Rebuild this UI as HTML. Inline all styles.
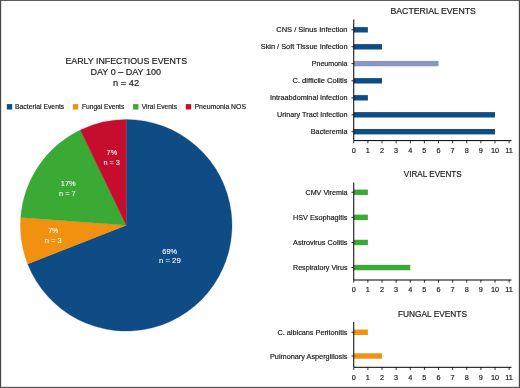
<!DOCTYPE html><html><head><meta charset="utf-8"><style>html,body{margin:0;padding:0;background:#fff}svg{display:block;will-change:transform;opacity:.9999}text{font-family:"Liberation Sans",sans-serif;fill:#1a1a1a;stroke:#1a1a1a;stroke-width:0.18px}</style></head><body>
<svg width="520" height="388" viewBox="0 0 520 388">
<rect x="0" y="0" width="520" height="388" fill="#fff"/>
<rect x="0" y="0" width="520" height="1" fill="#5a5a5a"/><rect x="0" y="387" width="520" height="1" fill="#555"/><rect x="0" y="386" width="520" height="1" fill="#e2e2e2"/>
<rect x="0" y="0" width="1" height="388" fill="#484848"/><rect x="1" y="1" width="1" height="386" fill="#e0e0e0"/><rect x="519" y="0" width="1" height="388" fill="#484848"/><rect x="518" y="1" width="1" height="386" fill="#dcdcdc"/>
<text x="65.5" y="64.1" font-size="8.9" textLength="121.50" lengthAdjust="spacingAndGlyphs">EARLY INFECTIOUS EVENTS</text>
<text x="90.5" y="75.4" font-size="8.9" textLength="70.50" lengthAdjust="spacingAndGlyphs">DAY 0 – DAY 100</text>
<text x="113" y="85.7" font-size="8.9" textLength="26.10" lengthAdjust="spacingAndGlyphs">n = 42</text>
<rect x="6.8" y="104.1" width="5.4" height="5.4" fill="#0f4b85"/>
<text x="15" y="109.1" font-size="6.9" textLength="49.25" lengthAdjust="spacingAndGlyphs">Bacterial Events</text>
<rect x="72.8" y="104.1" width="5.4" height="5.4" fill="#f29010"/>
<text x="82" y="109.1" font-size="6.9" textLength="42.25" lengthAdjust="spacingAndGlyphs">Fungal Events</text>
<rect x="133.05" y="104.1" width="5.4" height="5.4" fill="#3aaa35"/>
<text x="141.75" y="109.1" font-size="6.9" textLength="35.25" lengthAdjust="spacingAndGlyphs">Viral Events</text>
<rect x="185.8" y="104.1" width="5.4" height="5.4" fill="#c70d2d"/>
<text x="194.5" y="109.1" font-size="6.9" textLength="51.50" lengthAdjust="spacingAndGlyphs">Pneumonia NOS</text>
<path d="M126.2,225.3 L126.20,119.50 A105.8,105.8 0 1 1 27.71,263.95 Z" fill="#0f4b85" stroke="#0f4b85" stroke-width="0.3"/>
<path d="M126.2,225.3 L27.71,263.95 A105.8,105.8 0 0 1 20.70,217.39 Z" fill="#f29010" stroke="#f29010" stroke-width="0.3"/>
<path d="M126.2,225.3 L20.70,217.39 A105.8,105.8 0 0 1 80.30,129.98 Z" fill="#3aaa35" stroke="#3aaa35" stroke-width="0.3"/>
<path d="M126.2,225.3 L80.30,129.98 A105.8,105.8 0 0 1 126.20,119.50 Z" fill="#c70d2d" stroke="#c70d2d" stroke-width="0.3"/>
<text x="162.3" y="253.8" font-size="7.3" textLength="14.90" lengthAdjust="spacingAndGlyphs" style="fill:#fff;stroke:#fff;stroke-width:0.08px">69%</text>
<text x="158.9" y="263.2" font-size="7.3" textLength="21.90" lengthAdjust="spacingAndGlyphs" style="fill:#fff;stroke:#fff;stroke-width:0.08px">n = 29</text>
<text x="48.2" y="233.4" font-size="7.3" textLength="10.20" lengthAdjust="spacingAndGlyphs" style="fill:#fff;stroke:#fff;stroke-width:0.08px">7%</text>
<text x="44.8" y="243.1" font-size="7.3" textLength="17.00" lengthAdjust="spacingAndGlyphs" style="fill:#fff;stroke:#fff;stroke-width:0.08px">n = 3</text>
<text x="60.8" y="186.0" font-size="7.3" textLength="14.90" lengthAdjust="spacingAndGlyphs" style="fill:#fff;stroke:#fff;stroke-width:0.08px">17%</text>
<text x="58.9" y="195.5" font-size="7.3" textLength="16.90" lengthAdjust="spacingAndGlyphs" style="fill:#fff;stroke:#fff;stroke-width:0.08px">n = 7</text>
<text x="106.6" y="155.4" font-size="7.3" textLength="10.60" lengthAdjust="spacingAndGlyphs" style="fill:#fff;stroke:#fff;stroke-width:0.08px">7%</text>
<text x="103.5" y="164.7" font-size="7.3" textLength="16.40" lengthAdjust="spacingAndGlyphs" style="fill:#fff;stroke:#fff;stroke-width:0.08px">n = 3</text>
<text x="390.5" y="14.4" font-size="8.6" textLength="85.30" lengthAdjust="spacingAndGlyphs">BACTERIAL EVENTS</text>
<rect x="353.75" y="27.10" width="14.12" height="5.4" fill="#0f4b85"/>
<line x1="351.45" y1="29.8" x2="353.75" y2="29.8" stroke="#000" stroke-width="0.85"/>
<text x="276.25" y="32.3" font-size="7.3" textLength="71.25" lengthAdjust="spacingAndGlyphs">CNS / Sinus Infection</text>
<rect x="353.75" y="44.10" width="28.25" height="5.4" fill="#0f4b85"/>
<line x1="351.45" y1="46.8" x2="353.75" y2="46.8" stroke="#000" stroke-width="0.85"/>
<text x="260.75" y="49.3" font-size="7.3" textLength="86.75" lengthAdjust="spacingAndGlyphs">Skin / Soft Tissue Infection</text>
<rect x="353.75" y="60.90" width="84.75" height="5.4" fill="#8b95bd"/>
<line x1="351.45" y1="63.6" x2="353.75" y2="63.6" stroke="#000" stroke-width="0.85"/>
<text x="311.75" y="66.1" font-size="7.3" textLength="35.75" lengthAdjust="spacingAndGlyphs">Pneumonia</text>
<rect x="353.75" y="78.10" width="28.25" height="5.4" fill="#0f4b85"/>
<line x1="351.45" y1="80.8" x2="353.75" y2="80.8" stroke="#000" stroke-width="0.85"/>
<text x="292.5" y="83.3" font-size="7.3" textLength="55.00" lengthAdjust="spacingAndGlyphs">C. difficile Colitis</text>
<rect x="353.75" y="95.10" width="14.12" height="5.4" fill="#0f4b85"/>
<line x1="351.45" y1="97.8" x2="353.75" y2="97.8" stroke="#000" stroke-width="0.85"/>
<text x="270" y="100.3" font-size="7.3" textLength="77.50" lengthAdjust="spacingAndGlyphs">Intraabdominal Infection</text>
<rect x="353.75" y="112.10" width="141.25" height="5.4" fill="#0f4b85"/>
<line x1="351.45" y1="114.8" x2="353.75" y2="114.8" stroke="#000" stroke-width="0.85"/>
<text x="277" y="117.3" font-size="7.3" textLength="70.50" lengthAdjust="spacingAndGlyphs">Urinary Tract Infection</text>
<rect x="353.75" y="129.00" width="141.25" height="5.4" fill="#0f4b85"/>
<line x1="351.45" y1="131.7" x2="353.75" y2="131.7" stroke="#000" stroke-width="0.85"/>
<text x="310.75" y="134.2" font-size="7.3" textLength="36.75" lengthAdjust="spacingAndGlyphs">Bacteremia</text>
<path d="M353.75,19.5 V140.6 H511.525" fill="none" stroke="#000" stroke-width="1"/>
<line x1="353.75" y1="140.6" x2="353.75" y2="143.29999999999998" stroke="#000" stroke-width="0.8"/>
<text x="353.75" y="153.04999999999998" font-size="7.3" text-anchor="middle">0</text>
<line x1="367.88" y1="140.6" x2="367.88" y2="143.29999999999998" stroke="#000" stroke-width="0.8"/>
<text x="367.88" y="153.04999999999998" font-size="7.3" text-anchor="middle">1</text>
<line x1="382.00" y1="140.6" x2="382.00" y2="143.29999999999998" stroke="#000" stroke-width="0.8"/>
<text x="382.00" y="153.04999999999998" font-size="7.3" text-anchor="middle">2</text>
<line x1="396.12" y1="140.6" x2="396.12" y2="143.29999999999998" stroke="#000" stroke-width="0.8"/>
<text x="396.12" y="153.04999999999998" font-size="7.3" text-anchor="middle">3</text>
<line x1="410.25" y1="140.6" x2="410.25" y2="143.29999999999998" stroke="#000" stroke-width="0.8"/>
<text x="410.25" y="153.04999999999998" font-size="7.3" text-anchor="middle">4</text>
<line x1="424.38" y1="140.6" x2="424.38" y2="143.29999999999998" stroke="#000" stroke-width="0.8"/>
<text x="424.38" y="153.04999999999998" font-size="7.3" text-anchor="middle">5</text>
<line x1="438.50" y1="140.6" x2="438.50" y2="143.29999999999998" stroke="#000" stroke-width="0.8"/>
<text x="438.50" y="153.04999999999998" font-size="7.3" text-anchor="middle">6</text>
<line x1="452.62" y1="140.6" x2="452.62" y2="143.29999999999998" stroke="#000" stroke-width="0.8"/>
<text x="452.62" y="153.04999999999998" font-size="7.3" text-anchor="middle">7</text>
<line x1="466.75" y1="140.6" x2="466.75" y2="143.29999999999998" stroke="#000" stroke-width="0.8"/>
<text x="466.75" y="153.04999999999998" font-size="7.3" text-anchor="middle">8</text>
<line x1="480.88" y1="140.6" x2="480.88" y2="143.29999999999998" stroke="#000" stroke-width="0.8"/>
<text x="480.88" y="153.04999999999998" font-size="7.3" text-anchor="middle">9</text>
<line x1="495.00" y1="140.6" x2="495.00" y2="143.29999999999998" stroke="#000" stroke-width="0.8"/>
<text x="495.00" y="153.04999999999998" font-size="7.3" text-anchor="middle">10</text>
<line x1="509.12" y1="140.6" x2="509.12" y2="143.29999999999998" stroke="#000" stroke-width="0.8"/>
<text x="509.12" y="153.04999999999998" font-size="7.3" text-anchor="middle">11</text>
<text x="403.75" y="176.9" font-size="8.6" textLength="58.00" lengthAdjust="spacingAndGlyphs">VIRAL EVENTS</text>
<rect x="353.75" y="189.55" width="14.12" height="5.4" fill="#3aaa35"/>
<line x1="351.45" y1="192.25" x2="353.75" y2="192.25" stroke="#000" stroke-width="0.85"/>
<text x="305.5" y="194.75" font-size="7.3" textLength="42.00" lengthAdjust="spacingAndGlyphs">CMV Viremia</text>
<rect x="353.75" y="214.65" width="14.12" height="5.4" fill="#3aaa35"/>
<line x1="351.45" y1="217.35" x2="353.75" y2="217.35" stroke="#000" stroke-width="0.85"/>
<text x="293" y="219.85" font-size="7.3" textLength="54.50" lengthAdjust="spacingAndGlyphs">HSV Esophagitis</text>
<rect x="353.75" y="239.75" width="14.12" height="5.4" fill="#3aaa35"/>
<line x1="351.45" y1="242.45" x2="353.75" y2="242.45" stroke="#000" stroke-width="0.85"/>
<text x="293" y="244.95" font-size="7.3" textLength="54.50" lengthAdjust="spacingAndGlyphs">Astrovirus Colitis</text>
<rect x="353.75" y="264.85" width="56.50" height="5.4" fill="#3aaa35"/>
<line x1="351.45" y1="267.55" x2="353.75" y2="267.55" stroke="#000" stroke-width="0.85"/>
<text x="293" y="270.05" font-size="7.3" textLength="54.50" lengthAdjust="spacingAndGlyphs">Respiratory Virus</text>
<path d="M353.75,182.5 V280 H511.525" fill="none" stroke="#000" stroke-width="1"/>
<line x1="353.75" y1="280" x2="353.75" y2="282.7" stroke="#000" stroke-width="0.8"/>
<text x="353.75" y="292.45" font-size="7.3" text-anchor="middle">0</text>
<line x1="367.88" y1="280" x2="367.88" y2="282.7" stroke="#000" stroke-width="0.8"/>
<text x="367.88" y="292.45" font-size="7.3" text-anchor="middle">1</text>
<line x1="382.00" y1="280" x2="382.00" y2="282.7" stroke="#000" stroke-width="0.8"/>
<text x="382.00" y="292.45" font-size="7.3" text-anchor="middle">2</text>
<line x1="396.12" y1="280" x2="396.12" y2="282.7" stroke="#000" stroke-width="0.8"/>
<text x="396.12" y="292.45" font-size="7.3" text-anchor="middle">3</text>
<line x1="410.25" y1="280" x2="410.25" y2="282.7" stroke="#000" stroke-width="0.8"/>
<text x="410.25" y="292.45" font-size="7.3" text-anchor="middle">4</text>
<line x1="424.38" y1="280" x2="424.38" y2="282.7" stroke="#000" stroke-width="0.8"/>
<text x="424.38" y="292.45" font-size="7.3" text-anchor="middle">5</text>
<line x1="438.50" y1="280" x2="438.50" y2="282.7" stroke="#000" stroke-width="0.8"/>
<text x="438.50" y="292.45" font-size="7.3" text-anchor="middle">6</text>
<line x1="452.62" y1="280" x2="452.62" y2="282.7" stroke="#000" stroke-width="0.8"/>
<text x="452.62" y="292.45" font-size="7.3" text-anchor="middle">7</text>
<line x1="466.75" y1="280" x2="466.75" y2="282.7" stroke="#000" stroke-width="0.8"/>
<text x="466.75" y="292.45" font-size="7.3" text-anchor="middle">8</text>
<line x1="480.88" y1="280" x2="480.88" y2="282.7" stroke="#000" stroke-width="0.8"/>
<text x="480.88" y="292.45" font-size="7.3" text-anchor="middle">9</text>
<line x1="495.00" y1="280" x2="495.00" y2="282.7" stroke="#000" stroke-width="0.8"/>
<text x="495.00" y="292.45" font-size="7.3" text-anchor="middle">10</text>
<line x1="509.12" y1="280" x2="509.12" y2="282.7" stroke="#000" stroke-width="0.8"/>
<text x="509.12" y="292.45" font-size="7.3" text-anchor="middle">11</text>
<text x="398" y="317.1" font-size="8.6" textLength="69.00" lengthAdjust="spacingAndGlyphs">FUNGAL EVENTS</text>
<rect x="353.75" y="329.55" width="14.12" height="5.4" fill="#f29010"/>
<line x1="351.45" y1="332.25" x2="353.75" y2="332.25" stroke="#000" stroke-width="0.85"/>
<text x="277.5" y="334.75" font-size="7.3" textLength="70.00" lengthAdjust="spacingAndGlyphs">C. albicans Peritonitis</text>
<rect x="353.75" y="353.30" width="28.25" height="5.4" fill="#f29010"/>
<line x1="351.45" y1="356" x2="353.75" y2="356" stroke="#000" stroke-width="0.85"/>
<text x="270" y="358.5" font-size="7.3" textLength="77.50" lengthAdjust="spacingAndGlyphs">Pulmonary Aspergillosis</text>
<path d="M353.75,322 V367.3 H511.525" fill="none" stroke="#000" stroke-width="1"/>
<line x1="353.75" y1="367.3" x2="353.75" y2="370.0" stroke="#000" stroke-width="0.8"/>
<text x="353.75" y="379.75" font-size="7.3" text-anchor="middle">0</text>
<line x1="367.88" y1="367.3" x2="367.88" y2="370.0" stroke="#000" stroke-width="0.8"/>
<text x="367.88" y="379.75" font-size="7.3" text-anchor="middle">1</text>
<line x1="382.00" y1="367.3" x2="382.00" y2="370.0" stroke="#000" stroke-width="0.8"/>
<text x="382.00" y="379.75" font-size="7.3" text-anchor="middle">2</text>
<line x1="396.12" y1="367.3" x2="396.12" y2="370.0" stroke="#000" stroke-width="0.8"/>
<text x="396.12" y="379.75" font-size="7.3" text-anchor="middle">3</text>
<line x1="410.25" y1="367.3" x2="410.25" y2="370.0" stroke="#000" stroke-width="0.8"/>
<text x="410.25" y="379.75" font-size="7.3" text-anchor="middle">4</text>
<line x1="424.38" y1="367.3" x2="424.38" y2="370.0" stroke="#000" stroke-width="0.8"/>
<text x="424.38" y="379.75" font-size="7.3" text-anchor="middle">5</text>
<line x1="438.50" y1="367.3" x2="438.50" y2="370.0" stroke="#000" stroke-width="0.8"/>
<text x="438.50" y="379.75" font-size="7.3" text-anchor="middle">6</text>
<line x1="452.62" y1="367.3" x2="452.62" y2="370.0" stroke="#000" stroke-width="0.8"/>
<text x="452.62" y="379.75" font-size="7.3" text-anchor="middle">7</text>
<line x1="466.75" y1="367.3" x2="466.75" y2="370.0" stroke="#000" stroke-width="0.8"/>
<text x="466.75" y="379.75" font-size="7.3" text-anchor="middle">8</text>
<line x1="480.88" y1="367.3" x2="480.88" y2="370.0" stroke="#000" stroke-width="0.8"/>
<text x="480.88" y="379.75" font-size="7.3" text-anchor="middle">9</text>
<line x1="495.00" y1="367.3" x2="495.00" y2="370.0" stroke="#000" stroke-width="0.8"/>
<text x="495.00" y="379.75" font-size="7.3" text-anchor="middle">10</text>
<line x1="509.12" y1="367.3" x2="509.12" y2="370.0" stroke="#000" stroke-width="0.8"/>
<text x="509.12" y="379.75" font-size="7.3" text-anchor="middle">11</text>
</svg></body></html>
